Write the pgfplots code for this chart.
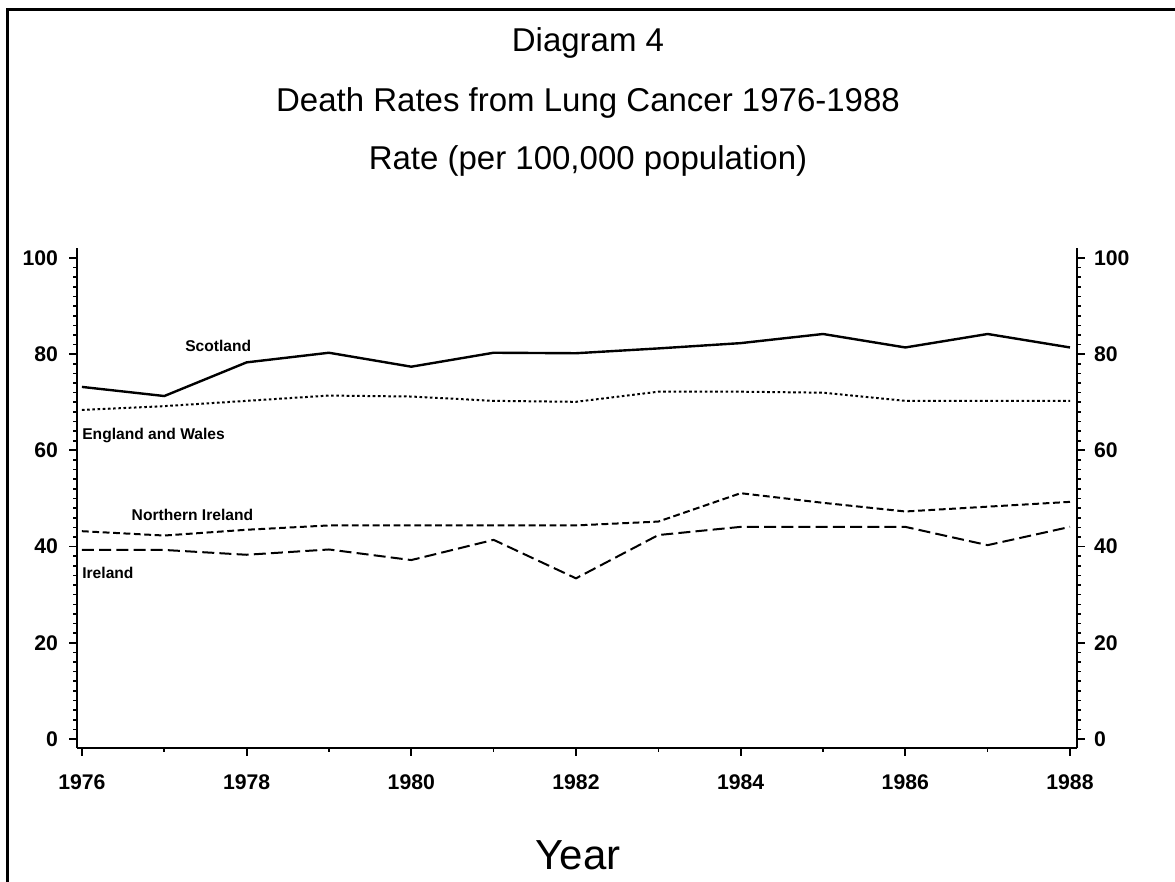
\documentclass[border=0pt]{standalone}
\usepackage{fontspec}
\setmainfont{Liberation Sans}
\usepackage{pgfplots}
\pgfplotsset{compat=1.18}

\pgfplotstableread{
year scot engw nire irel
1976 73.2 68.4 43.2 39.3
1977 71.3 69.2 42.3 39.3
1978 78.3 70.3 43.5 38.3
1979 80.3 71.4 44.4 39.4
1980 77.4 71.2 44.4 37.2
1981 80.3 70.3 44.4 41.4
1982 80.2 70.1 44.4 33.4
1983 81.2 72.2 45.2 42.4
1984 82.3 72.2 51.1 44.1
1985 84.2 72.0 49.1 44.1
1986 81.4 70.3 47.3 44.1
1987 84.2 70.3 48.3 40.3
1988 81.4 70.3 49.3 44.1
}\datatable

\begin{document}
\begin{tikzpicture}
\path[use as bounding box] (0,0) rectangle (587.5pt,441pt);
% page frame
\draw[line width=1.5pt] (3.5pt,0) -- (3.5pt,436pt) -- (587.5pt,436pt);
% titles
\node[anchor=base,font=\fontsize{16.5}{18}\selectfont] at (294pt,415pt) {Diagram 4};
\node[anchor=base,font=\fontsize{16.5}{18}\selectfont] at (294pt,385pt) {Death Rates from Lung Cancer 1976-1988};
\node[anchor=base,font=\fontsize{16.5}{18}\selectfont] at (294pt,356pt) {Rate (per 100,000 population)};
\node[anchor=base,font=\fontsize{21}{23}\selectfont] at (289pt,6pt) {Year};

\pgfplotsset{
  common/.style={
    width=500pt, height=250pt, scale only axis,
    at={(38.5pt,67pt)}, anchor=south west,
    xmin=1975.94, xmax=1988.085,
    ymin=-1.87, ymax=102.08,
    tick align=outside,
    major tick length=4pt, minor tick length=2pt,
    every tick/.style={black, line width=0.9pt},
    every minor tick/.style={black, line width=0.8pt},
    axis line style={line width=1.1pt},
    ytick={0,20,...,100}, minor y tick num=9,
    /pgf/number format/1000 sep={},
    /pgf/number format/assume math mode=true,
    ticklabel style={font=\fontsize{10.6}{12}\selectfont\bfseries},
  }
}

\begin{axis}[common,
  axis x line*=bottom, axis y line*=left,
  xtick={1976,1978,...,1988}, minor x tick num=1,
  xticklabel style={yshift=-6pt},
  yticklabel style={xshift=-2pt},
]
\addplot[black, line width=1.2pt] table[x=year,y=scot] {\datatable};
\addplot[black, line width=1pt, dash pattern=on 1.3pt off 1.3pt] table[x=year,y=engw] {\datatable};
\addplot[black, line width=1pt, dash pattern=on 3.4pt off 1.8pt] table[x=year,y=nire] {\datatable};
\addplot[black, line width=1pt, dash pattern=on 6pt off 2.6pt] table[x=year,y=irel] {\datatable};

\node[anchor=base west, inner sep=0, font=\fontsize{7.8}{8}\selectfont\bfseries] at (axis cs:1977.25,80.5) {Scotland};
\node[anchor=base west, inner sep=0, font=\fontsize{7.8}{8}\selectfont\bfseries] at (axis cs:1976.0,62.2) {England and Wales};
\node[anchor=base west, inner sep=0, font=\fontsize{7.8}{8}\selectfont\bfseries] at (axis cs:1976.6,45.5) {Northern Ireland};
\node[anchor=base west, inner sep=0, font=\fontsize{7.8}{8}\selectfont\bfseries] at (axis cs:1976.0,33.4) {Ireland};
\end{axis}

\begin{axis}[common,
  axis x line=none, axis y line*=right,
  yticklabel style={xshift=1pt},
]
\addplot[draw=none] coordinates {(1976,0)};
\end{axis}
\end{tikzpicture}
\end{document}
